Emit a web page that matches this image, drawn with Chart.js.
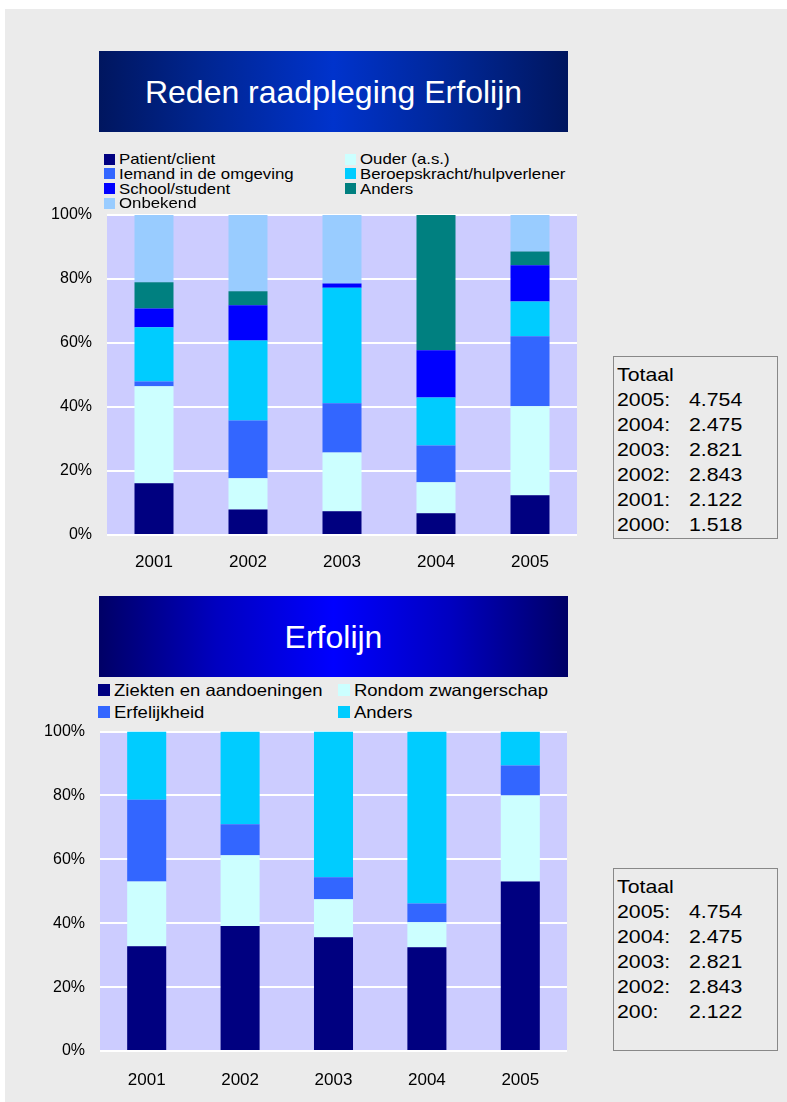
<!DOCTYPE html>
<html>
<head>
<meta charset="utf-8">
<title>Erfolijn</title>
<script src="https://cdn.jsdelivr.net/npm/chart.js@4/dist/chart.umd.min.js"></script>
<style>
  body { margin: 0; background: #fff; font-family: 'Liberation Sans', Arial, sans-serif; }
  #panel { position: absolute; left: 5px; top: 9px; width: 782px; height: 1093px; background: #EBEBEB; }
  .title { position: absolute; left: 99px; width: 469px; height: 81px; color: #fff; font-size: 32px;
           display: flex; align-items: center; justify-content: center; box-sizing: border-box; padding-top: 2px; }
  #title1 { top: 51px; background: linear-gradient(to right, #00165F 0%, #002590 22%, #0033CC 50%, #002590 78%, #00165F 100%); }
  #title2 { top: 596px; background: linear-gradient(to right, #000066 0%, #0000C0 25%, #0000FF 50%, #0000C0 75%, #000066 100%); }
  .lg-box { position: absolute; }
  .lg-text { position: absolute; white-space: nowrap; color: #000; transform: scaleX(1.12); transform-origin: left center; }
  .totals { position: absolute; left: 613px; width: 165px; border: 1px solid #888; box-sizing: border-box; }
  .tot-line { position: absolute; white-space: nowrap; font-size: 19px; line-height: 24px; color: #000;
              transform: scaleX(1.12); transform-origin: left center; }
  canvas { position: absolute; }
</style>
</head>
<body>
<div id="panel"></div>
<div class="title" id="title1">Reden raadpleging Erfolijn</div>
<div class="title" id="title2">Erfolijn</div>
<canvas id="chart1" width="560" height="370" style="left:30px;top:205px"></canvas>
<canvas id="chart2" width="560" height="370" style="left:20px;top:722px"></canvas>
<div id="overlay"></div>

<script>
// Years on the x axis
const years = ['2001', '2002', '2003', '2004', '2005'];

// Chart 1: Reden raadpleging (percent of calls per year)
const reasonLabels = ['Patient/client', 'Ouder (a.s.)', 'Iemand in de omgeving', 'Beroepskracht/hulpverlener',
                      'School/student', 'Anders', 'Onbekend'];
const patientClient = [16.2, 8.0, 7.4, 6.8, 12.4];
const ouder         = [30.3, 9.7, 18.4, 9.7, 27.8];
const iemand        = [1.5, 18.1, 15.4, 11.5, 21.9];
const beroeps       = [16.9, 25.0, 36.1, 15.0, 10.9];
const school        = [5.9, 11.0, 1.3, 14.7, 11.3];
const andersReden   = [8.2, 4.4, 0, 42.3, 4.3];
const onbekend      = [21.0, 23.8, 21.4, 0, 11.4];
const reasonColors  = ['#000080', '#CCFFFF', '#3366FF', '#00CCFF', '#0000FF', '#008080', '#99CCFF'];

// Chart 2: Erfolijn onderwerp
const topicLabels = ['Ziekten en aandoeningen', 'Rondom zwangerschap', 'Erfelijkheid', 'Anders'];
const ziekten     = [32.8, 39.1, 35.6, 32.5, 53.1];
const rondom      = [20.3, 22.2, 11.9, 7.8, 26.9];
const erfelijk    = [25.6, 9.7, 6.9, 5.9, 9.4];
const andersTopic = [21.3, 29.0, 45.6, 53.8, 10.6];
const topicColors = ['#000080', '#CCFFFF', '#3366FF', '#00CCFF'];

// Totals boxes
const totalsTitle = 'Totaal';
const totals1Years  = ['2005:', '2004:', '2003:', '2002:', '2001:', '2000:'];
const totals1Values = ['4.754', '2.475', '2.821', '2.843', '2.122', '1.518'];
const totals2Years  = ['2005:', '2004:', '2003:', '2002:', '200:'];
const totals2Values = ['4.754', '2.475', '2.821', '2.843', '2.122'];

const yTicks = [0, 20, 40, 60, 80, 100];

const FONT = "'Liberation Sans', Arial, sans-serif";

// lavender plot background
const plotBg = {
  id: 'plotBg',
  beforeDraw(chart) {
    const { ctx, chartArea: a } = chart;
    ctx.save();
    ctx.fillStyle = '#CCCCFF';
    ctx.fillRect(a.left, a.top, a.right - a.left, a.bottom - a.top);
    ctx.restore();
  }
};

function makeChart(id, seriesList, labels, colors, opts) {
  return new Chart(document.getElementById(id), {
    type: 'bar',
    data: {
      labels: years,
      datasets: seriesList.map((s, i) => ({
        label: labels[i],
        data: s,
        backgroundColor: colors[i],
        borderWidth: 0,
        barPercentage: opts.barPct,
        categoryPercentage: 1.0
      }))
    },
    options: {
      responsive: false,
      animation: false,
      layout: { padding: opts.padding },
      plugins: { legend: { display: false }, tooltip: { enabled: false } },
      scales: {
        x: {
          stacked: true,
          grid: { display: false },
          border: { display: false },
          ticks: { font: { family: FONT, size: 17 }, color: '#000', padding: opts.xPad, maxRotation: 0 },
          afterFit: s => { s.height = opts.xHeight; }
        },
        y: {
          stacked: true,
          min: 0,
          max: 100,
          afterBuildTicks: s => { s.ticks = yTicks.map(v => ({ value: v })); },
          // invisible tick marks give the gap between labels and plot
          grid: { color: '#FFFFFF', lineWidth: 2, drawTicks: true, tickLength: 15, tickColor: 'rgba(0,0,0,0)' },
          border: { display: false },
          ticks: { font: { family: FONT, size: 16 }, color: '#000', padding: 0, callback: v => v + '%' },
          afterFit: s => { s.width = opts.yWidth; }
        }
      }
    },
    plugins: [plotBg]
  });
}

makeChart('chart1', [patientClient, ouder, iemand, beroeps, school, andersReden, onbekend],
  reasonLabels, reasonColors,
  { barPct: 0.415, padding: { top: 10, right: 13, bottom: 0, left: 0 }, xHeight: 40, yWidth: 77, xPad: 9 });

makeChart('chart2', [ziekten, rondom, erfelijk, andersTopic],
  topicLabels, topicColors,
  { barPct: 0.418, padding: { top: 9, right: 13, bottom: 0, left: 0 }, xHeight: 41, yWidth: 80, xPad: 11 });

// HTML legends in two columns, row-major
const overlay = document.getElementById('overlay');
function legend(labels, colors, cfg) {
  labels.forEach((lab, i) => {
    const col = i % 2, row = Math.floor(i / 2);
    const cx = cfg.cols[col], cy = cfg.top + row * cfg.step;
    const box = document.createElement('div');
    box.className = 'lg-box';
    Object.assign(box.style, { left: cx + 'px', top: (cy - cfg.box / 2) + 'px', width: cfg.box + 'px',
                               height: cfg.box + 'px', background: colors[i] });
    overlay.appendChild(box);
    const t = document.createElement('div');
    t.className = 'lg-text';
    t.textContent = lab;
    Object.assign(t.style, { left: (cx + cfg.gap) + 'px', top: (cy - 10) + 'px', fontSize: cfg.size + 'px',
                             lineHeight: '20px' });
    overlay.appendChild(t);
  });
}
legend(reasonLabels, reasonColors, { cols: [104, 345], top: 159, step: 14.8, box: 11, gap: 15, size: 15 });
legend(topicLabels, topicColors, { cols: [98, 338], top: 690, step: 22, box: 12, gap: 16, size: 16.5 });

function totalsBox(top, height, firstY, yearsCol, valuesCol) {
  const b = document.createElement('div');
  b.className = 'totals';
  Object.assign(b.style, { top: top + 'px', height: height + 'px' });
  overlay.appendChild(b);
  const add = (txt, x, y) => {
    const d = document.createElement('div');
    d.className = 'tot-line';
    d.textContent = txt;
    Object.assign(d.style, { left: x + 'px', top: (y - 12) + 'px' });
    overlay.appendChild(d);
  };
  add(totalsTitle, 617, firstY);
  yearsCol.forEach((y, i) => {
    add(y, 617, firstY + 25 * (i + 1));
    add(valuesCol[i], 689, firstY + 25 * (i + 1));
  });
}
totalsBox(356, 183, 375, totals1Years, totals1Values);
totalsBox(868, 183, 887, totals2Years, totals2Values);
</script>
</body>
</html>
